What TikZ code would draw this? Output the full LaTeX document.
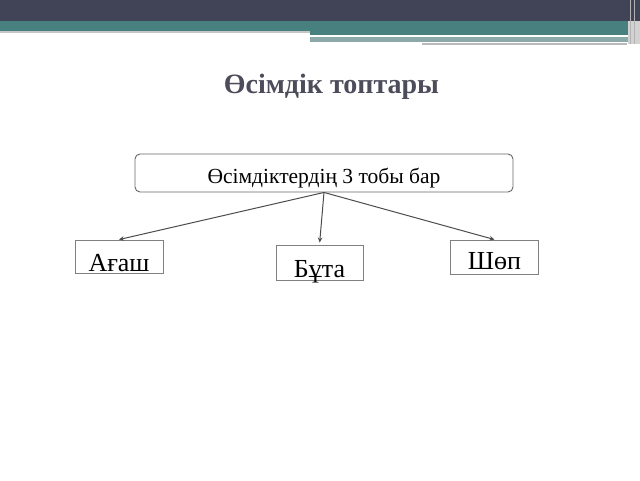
\documentclass[tikz,border=0pt]{standalone}
\usepackage{fontspec}
\setmainfont{Liberation Serif}
\usetikzlibrary{positioning, arrows.meta}

\definecolor{bandDark}{HTML}{414356}
\definecolor{bandTeal}{HTML}{47807F}
\definecolor{bandPale}{HTML}{8BA9A9}
\definecolor{titleGray}{HTML}{4C4C5A}

\begin{document}
\begin{tikzpicture}[
    x=1pt, y=-1pt,
    >={Stealth[length=5pt, width=4.5pt]},
    % Styles
    headbox/.style={
        draw=black!60, line width=0.9pt, rounded corners=5pt, minimum width=378pt, minimum height=38pt,
        inner sep=0pt, text height=20pt, text depth=0pt, font=\fontsize{21.5}{24}\selectfont
    },
    kindbox/.style={
        draw=black!50, line width=0.9pt, rectangle, minimum width=88pt, minimum height=33pt,
        inner sep=0pt, text depth=0pt, font=\fontsize{26}{28}\selectfont
    },
    arrow/.style={->, line width=1pt, black!70}
]
    \useasboundingbox (0,0) rectangle (640,480);

    % --- SLIDE HEADER BANDS ---
    \fill[bandDark] (0,0) rectangle (640,21);
    \fill[bandTeal] (0,21) rectangle (640,31);
    \fill[gray!45] (0,31) rectangle (310,32.5);
    \fill[bandTeal] (310,31) rectangle (628,34.5);
    \fill[white] (310,34.5) rectangle (593,36.5);
    \fill[bandPale] (310,36.5) rectangle (628,42);
    \fill[white] (422,41.5) rectangle (627,43);
    \fill[gray!55] (422,43) rectangle (627,44.5);
    \fill[gray!35] (628,21) rectangle (640,44);
    \fill[gray!60] (630,0) rectangle (631,44);
    \fill[gray!60] (634,0) rectangle (635,44);

    % --- TITLE ---
    \node[font=\fontsize{28}{30}\selectfont\bfseries, text=titleGray, anchor=base, inner sep=0pt] (title) at (331.5,93) {Өсімдік топтары};

    % --- MAIN BOX ---
    \node[headbox] (groups) at (324,173) {Өсімдіктердің 3 тобы бар};

    % --- KINDS ---
    \node[kindbox, text height=30pt] (tree) at (119,256.5) {Ағаш};
    \node[kindbox, text height=29pt, minimum width=87pt, minimum height=35pt] (bush) at (319.5,262.5) {Бұта};
    \node[kindbox, text height=24pt, minimum height=34pt] (grass) at (494.5,257) {Шөп};

    % --- CONNECTIONS ---
    \draw[arrow] (groups.south) -- (tree.north);
    \draw[arrow, shorten >=2pt] (groups.south) -- (bush.north);
    \draw[arrow] (groups.south) -- (grass.north);

\end{tikzpicture}
\end{document}
